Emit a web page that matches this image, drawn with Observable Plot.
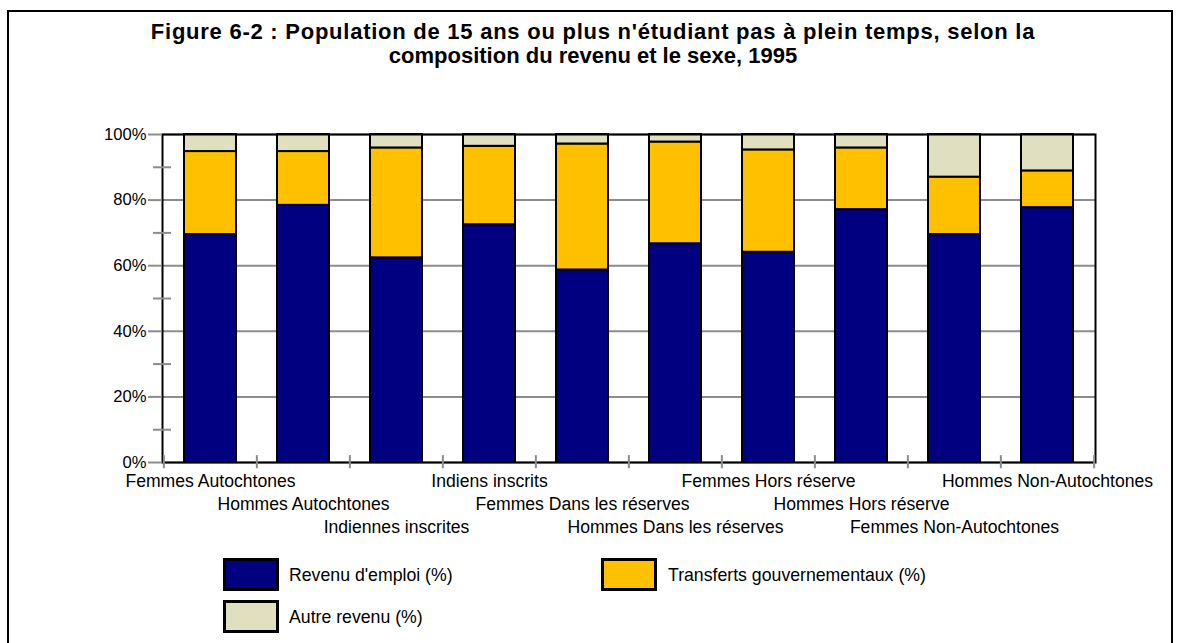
<!DOCTYPE html>
<html>
<head>
<meta charset="utf-8">
<script src="https://cdn.jsdelivr.net/npm/d3@7"></script>
<script src="https://cdn.jsdelivr.net/npm/@observablehq/plot@0.6"></script>
<style>
  html, body { margin: 0; padding: 0; background: white; overflow: hidden; }
  #wrap { position: relative; width: 1180px; height: 643px; font-family: "Liberation Sans", Arial, sans-serif; }
  #border { position: absolute; left: 7px; top: 10px; width: 1166px; height: 700px; border: 2px solid black; box-sizing: border-box; }
  #title { position: absolute; left: 0; top: 20px; width: 1186px; text-align: center; font-weight: bold; font-size: 22px; line-height: 24px; color: black; }
  #title .l1 { letter-spacing: 0.75px; }
  #chart { position: absolute; left: 0; top: 0; }
  .lbox { position: absolute; width: 56px; height: 33px; border: 3px solid black; box-sizing: border-box; }
  .ltxt { position: absolute; font-size: 17.7px; transform: translateY(-50%); white-space: nowrap; color: black; }
</style>
</head>
<body>
<div id="wrap">
  <div id="chart"></div>
  <div id="border"></div>
  <div id="title"></div>
  <div id="legend"></div>
</div>
<script>
const titleLines = ["Figure 6-2 : Population de 15 ans ou plus n'étudiant pas à plein temps, selon la", "composition du revenu et le sexe, 1995"];
const categories = ["Femmes Autochtones", "Hommes Autochtones", "Indiennes inscrites", "Indiens inscrits", "Femmes Dans les réserves", "Hommes Dans les réserves", "Femmes Hors réserve", "Hommes Hors réserve", "Femmes Non-Autochtones", "Hommes Non-Autochtones"];
const series = ["Revenu d'emploi (%)", "Transferts gouvernementaux (%)", "Autre revenu (%)"];
const emploi = [69.5, 78.4, 62.4, 72.5, 58.7, 66.7, 64.1, 77.1, 69.5, 77.7];
const transferts = [25.3, 16.4, 33.5, 23.9, 38.4, 31.0, 31.2, 18.8, 17.5, 11.2];
const autre = [5.2, 5.2, 4.1, 3.6, 2.9, 2.3, 4.7, 4.1, 13.0, 11.1];
const yTicks = [0, 20, 40, 60, 80, 100];
const yMinorTicks = [10, 30, 50, 70, 90];
const colors = ["#000080", "#FFC000", "#E0E0C0"];

const titleEl = document.getElementById("title");
titleLines.forEach((t, i) => {
  const s = document.createElement("div");
  s.className = "l" + (i + 1);
  s.textContent = t;
  titleEl.appendChild(s);
});

const rows = categories.flatMap((c, i) => [
  {cat: c, serie: series[0], v: emploi[i]},
  {cat: c, serie: series[1], v: transferts[i]},
  {cat: c, serie: series[2], v: autre[i]}
]);

const W = 1180, mL = 162, mR = 85;
const step = (W - mL - mR) / categories.length;

const labelMarks = [0, 1, 2].map(r =>
  Plot.text(categories.filter((_, i) => i % 3 === r), {
    x: d => d, y: 0, text: d => d, dy: 19 + 23 * r, fontSize: 17.6, fill: "black"
  })
);

const chart = Plot.plot({
  width: W,
  height: 545,
  marginTop: 134,
  marginLeft: mL,
  marginRight: mR,
  marginBottom: 83,
  style: {fontFamily: "'Liberation Sans', Arial, sans-serif", background: "transparent", overflow: "visible"},
  x: {domain: categories, paddingInner: 0.44, paddingOuter: 0.22, axis: null},
  y: {domain: [0, 100], axis: null},
  color: {domain: series, range: colors},
  marks: [
    Plot.gridY(yTicks, {stroke: "#8c8c8c", strokeOpacity: 1, strokeWidth: 2}),
    Plot.barY(rows, {x: "cat", y: "v", fill: "serie", stroke: "black", strokeWidth: 2}),
    Plot.frame({stroke: "black", strokeWidth: 2}),
    Plot.axisY(yTicks, {label: null, tickSize: 14, tickPadding: 2, tickFormat: d => d + "%", stroke: "#8c8c8c", strokeWidth: 2, fontSize: 16.6, fill: "black"}),
    Plot.axisY(yMinorTicks, {label: null, tickSize: 18, dx: 9, tickFormat: () => "", stroke: "#8c8c8c", strokeWidth: 2}),
    Plot.ruleX(categories, {x: d => d, dx: -step / 2, y1: -1.9, y2: 2.1, stroke: "#8c8c8c", strokeWidth: 2}),
    Plot.ruleX([categories[categories.length - 1]], {x: d => d, dx: step / 2, y1: -1.9, y2: 2.1, stroke: "#8c8c8c", strokeWidth: 2}),
    ...labelMarks
  ]
});
document.getElementById("chart").appendChild(chart);

const legendPos = [
  {bx: 223, by: 558, tx: 289},
  {bx: 601, by: 558, tx: 668},
  {bx: 223, by: 600, tx: 289}
];
const legend = document.getElementById("legend");
series.forEach((s, i) => {
  const p = legendPos[i];
  const b = document.createElement("div");
  b.className = "lbox";
  b.style.left = p.bx + "px";
  b.style.top = p.by + "px";
  b.style.background = colors[i];
  legend.appendChild(b);
  const t = document.createElement("div");
  t.className = "ltxt";
  t.style.left = p.tx + "px";
  t.style.top = (p.by + 17) + "px";
  t.textContent = s;
  legend.appendChild(t);
});
</script>
</body>
</html>
